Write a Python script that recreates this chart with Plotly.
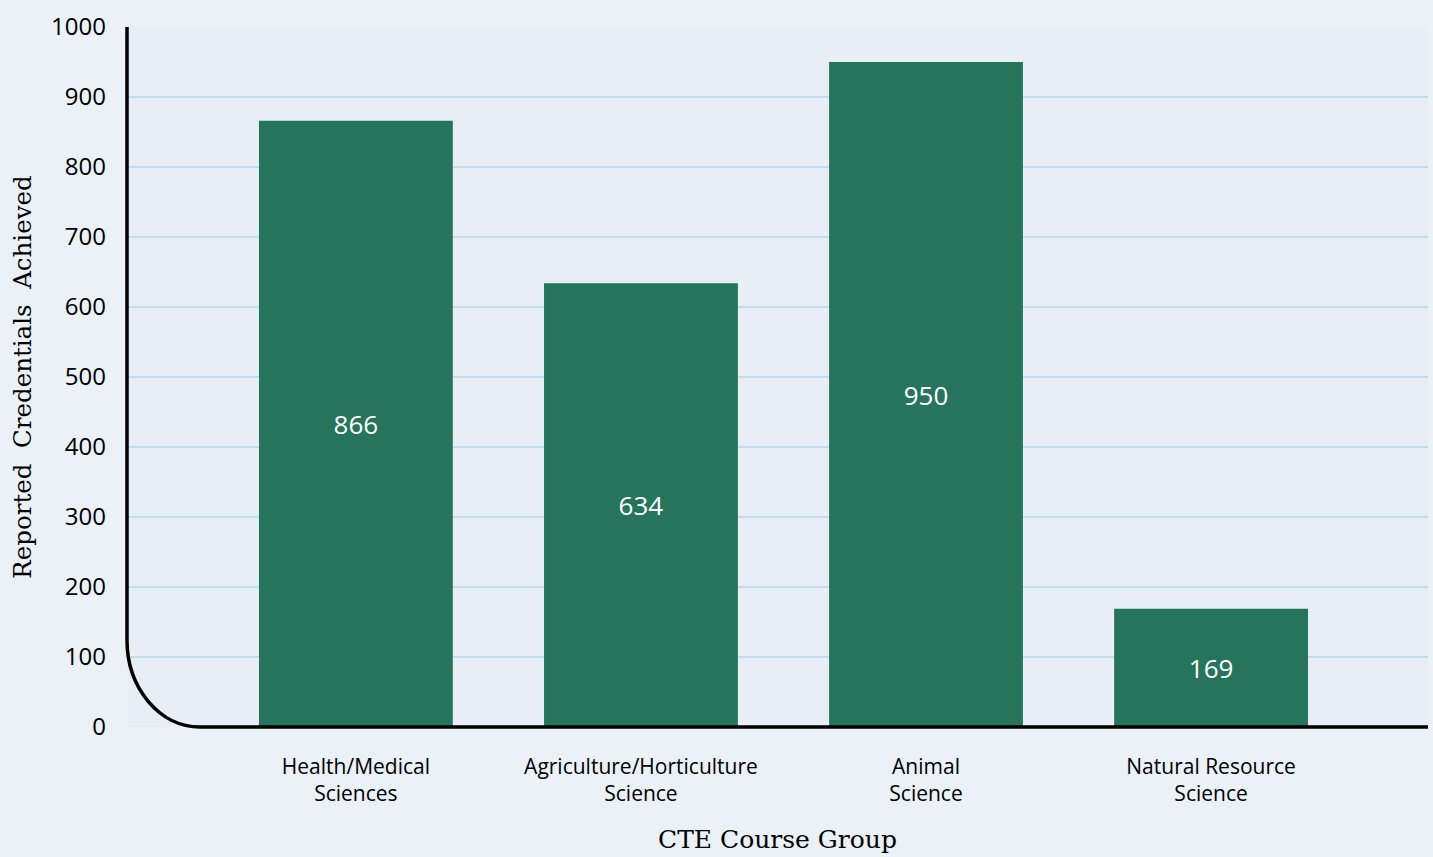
import plotly.graph_objects as go

categories = ["Health/Medical<br>Sciences", "Agriculture/Horticulture<br>Science", "Animal<br>Science", "Natural Resource<br>Science"]
values = [866, 634, 950, 169]
y_ticks = [0, 100, 200, 300, 400, 500, 600, 700, 800, 900, 1000]

W, H = 1433, 857
ML, MR, MT, MB = 127, 5, 27, 130
pw, ph = W - ML - MR, H - MT - MB

fig = go.Figure(go.Bar(
    x=list(range(len(categories))), y=values,
    marker=dict(color="#26745C", line=dict(width=0)),
    width=0.68,
    text=[str(v) for v in values], textposition="inside", insidetextanchor="middle",
    textfont=dict(color="white", size=26, family="Open Sans"),
    textangle=0,
))

# rounded axis corner
rx = 73 / pw
ry = 87 / ph
k = 0.5523
path = (f"M 0,1 L 0,{ry} C 0,{ry*(1-k)} {rx*(1-k)},0 {rx},0 L 1,0")
fig.add_shape(type="path", xref="paper", yref="paper", path=path,
              line=dict(color="black", width=3.5), layer="above")

fig.update_layout(
    width=W, height=H,
    margin=dict(l=ML, r=MR, t=MT, b=MB),
    paper_bgcolor="#EAF1F7", plot_bgcolor="#E7EEF5",
    showlegend=False,
    font=dict(family="Open Sans", color="black"),
    xaxis=dict(
        tickmode="array", tickvals=list(range(len(categories))), ticktext=categories,
        range=[-0.803, 3.761], showgrid=False, showline=False, zeroline=False,
        tickfont=dict(size=21, family="Open Sans"), ticks="", ticklabelstandoff=25,
        title=dict(text="CTE Course Group", font=dict(size=25, family="DejaVu Serif"), standoff=24),
    ),
    yaxis=dict(
        range=[0, 1000], tickvals=y_ticks, showgrid=True, gridcolor="#C4DEE9", gridwidth=1.5,
        zeroline=False, showline=False, ticks="", ticklabelstandoff=20,
        tickfont=dict(size=24, family="Open Sans"),
        title=dict(text="Reported  Credentials  Achieved", font=dict(size=24.5, family="DejaVu Serif"), standoff=12),
    ),
)

fig.write_html("out.html", config={"displayModeBar": False},
               post_script="document.body.style.margin='0px';document.body.style.overflow='hidden';")
